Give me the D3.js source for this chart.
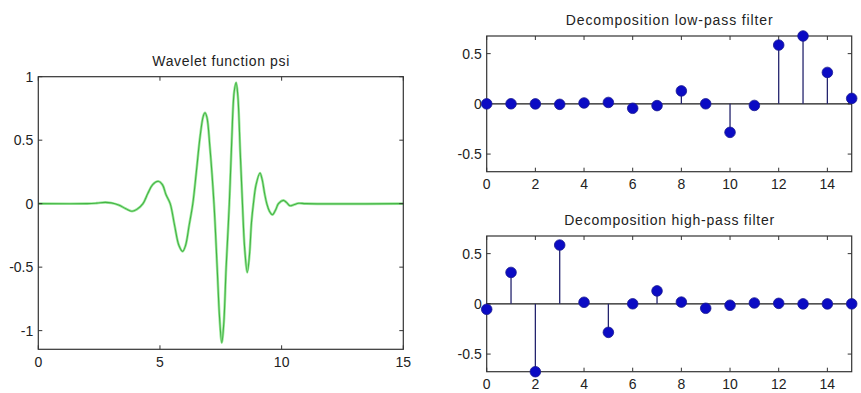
<!DOCTYPE html>
<html>
<head>
<meta charset="utf-8">
<script src="https://cdn.jsdelivr.net/npm/d3@7"></script>
<style>
  html, body { margin: 0; padding: 0; background: #ffffff; }
  svg { display: block; }
  text { font-family: "Liberation Sans", Arial, Helvetica, sans-serif; fill: #222; }
</style>
</head>
<body>
<svg id="chart" width="861" height="393"></svg>
<script>
// ---- Data ----
// Wavelet function psi (x, y) samples
const psiX = [0, 2.0, 2.4, 2.75, 3.0, 3.3, 3.6, 3.85, 4.05, 4.3, 4.5, 4.7, 4.93, 5.1, 5.25, 5.42,
  5.6, 5.78, 5.93, 6.05, 6.2, 6.35, 6.5, 6.65, 6.78, 6.85, 6.93, 7.05, 7.22, 7.35, 7.45, 7.54,
  7.62, 7.72, 7.85, 7.95, 8.05, 8.13, 8.2, 8.3, 8.39, 8.48, 8.59, 8.68, 8.76, 8.84, 8.95, 9.11,
  9.2, 9.3, 9.39, 9.5, 9.62, 9.75, 9.87, 10.07, 10.2, 10.34, 10.5, 10.7, 11.0, 15];
const psiY = [0, 0, 0.004, 0.01, 0.006, -0.01, -0.04, -0.06, -0.045, 0.0, 0.08, 0.15, 0.176, 0.15, 0.07, 0.0,
  -0.17, -0.33, -0.376, -0.33, -0.17, 0.0, 0.26, 0.53, 0.69, 0.716, 0.68, 0.45, 0.0, -0.5, -0.9, -1.095,
  -0.95, -0.5, 0.0, 0.5, 0.88, 0.953, 0.85, 0.4, 0.0, -0.35, -0.542, -0.4, -0.15, 0.0, 0.15, 0.242,
  0.19, 0.08, 0.0, -0.06, -0.087, -0.05, 0.0, 0.026, 0.01, -0.016, -0.008, 0.003, 0, 0];

// Filter coefficients (index 0..15)
const filterIndex = d3.range(16);
const lowPass = [-0.0001, 0.0007, -0.0004, -0.0049, 0.0087, 0.0140, -0.0441, -0.0174,
  0.1287, 0.0005, -0.2840, -0.0158, 0.5854, 0.6756, 0.3129, 0.0544];
const highPass = [-0.0544, 0.3129, -0.6756, 0.5854, 0.0158, -0.2840, 0.0005, 0.1287,
  0.0174, -0.0441, -0.0140, 0.0087, 0.0049, -0.0004, -0.0007, -0.0001];

const titles = ["Wavelet function psi", "Decomposition low-pass filter", "Decomposition high-pass filter"];
const psiXTicks = [0, 5, 10, 15];
const psiYTicks = [-1, -0.5, 0, 0.5, 1];
const filtXTicks = [0, 2, 4, 6, 8, 10, 12, 14];
const filtYTicks = [-0.5, 0, 0.5];

// ---- Drawing ----
const svg = d3.select("#chart");
const fmt = d => String(d);
const FRAME = "#333";
const TICKLEN = 4;
const FS = 14;

function frame(g, x, y, xTicks, yTicks, title, titleLen) {
  const [x0, x1] = x.range();
  const [y0, y1] = y.range(); // y0 bottom, y1 top
  g.append("rect").attr("x", x0).attr("y", y1).attr("width", x1 - x0).attr("height", y0 - y1)
    .attr("fill", "none").attr("stroke", FRAME).attr("stroke-width", 1.2);
  xTicks.forEach(t => {
    const px = x(t);
    g.append("line").attr("x1", px).attr("x2", px).attr("y1", y0).attr("y2", y0 - TICKLEN).attr("stroke", FRAME);
    g.append("line").attr("x1", px).attr("x2", px).attr("y1", y1).attr("y2", y1 + TICKLEN).attr("stroke", FRAME);
    g.append("text").attr("x", px).attr("y", y0 + 17.5).attr("text-anchor", "middle")
      .attr("font-size", FS).text(fmt(t));
  });
  yTicks.forEach(t => {
    const py = y(t);
    g.append("line").attr("x1", x0).attr("x2", x0 + TICKLEN).attr("y1", py).attr("y2", py).attr("stroke", FRAME);
    g.append("line").attr("x1", x1).attr("x2", x1 - TICKLEN).attr("y1", py).attr("y2", py).attr("stroke", FRAME);
    g.append("text").attr("x", x0 - 5).attr("y", py + 5).attr("text-anchor", "end")
      .attr("font-size", FS).text(fmt(t));
  });
  g.append("text").attr("x", (x0 + x1) / 2).attr("y", y1 - 11).attr("text-anchor", "middle")
    .attr("font-size", FS).attr("textLength", titleLen).attr("lengthAdjust", "spacing").text(title);
}

// Panel 1: psi
{
  const x = d3.scaleLinear().domain([0, 15]).range([38.3, 403.3]);
  const y = d3.scaleLinear().domain([-1.147, 1.0]).range([349.3, 76.7]);
  const g = svg.append("g");
  const pts = psiX.map((v, i) => [v, psiY[i]]);
  const line = d3.line().x(d => x(d[0])).y(d => y(d[1])).curve(d3.curveCatmullRom.alpha(0.5));
  g.append("path").attr("d", line(pts)).attr("fill", "none")
    .attr("stroke", "#9ee89e").attr("stroke-width", 2.6).attr("stroke-linejoin", "round");
  g.append("path").attr("d", line(pts)).attr("fill", "none")
    .attr("stroke", "#44b444").attr("stroke-width", 1.1).attr("stroke-linejoin", "round");
  frame(g, x, y, psiXTicks, psiYTicks, titles[0], 137);
}

function stemPanel(values, top, bottom, title, titleLen) {
  const x = d3.scaleLinear().domain([0, 15]).range([486.7, 851.7]);
  const y = d3.scaleLinear().domain([-0.6756, 0.6756]).range([bottom, top]);
  const g = svg.append("g");
  frame(g, x, y, filtXTicks, filtYTicks, title, titleLen);
  g.append("line").attr("x1", x(0)).attr("x2", x(15)).attr("y1", y(0)).attr("y2", y(0))
    .attr("stroke", "#1a1a1a").attr("stroke-width", 1.3);
  g.selectAll("line.stem").data(filterIndex).enter().append("line").attr("class", "stem")
    .attr("x1", d => x(d)).attr("x2", d => x(d)).attr("y1", y(0)).attr("y2", d => y(values[d]))
    .attr("stroke", "#24246e").attr("stroke-width", 1.3);
  g.selectAll("circle").data(filterIndex).enter().append("circle")
    .attr("cx", d => x(d)).attr("cy", d => y(values[d])).attr("r", 5.3)
    .attr("fill", "#0b0bc4").attr("stroke", "#1a1a90").attr("stroke-width", 0.8);
}

stemPanel(lowPass, 36, 171.7, titles[1], 207);
stemPanel(highPass, 236, 371.7, titles[2], 210);
</script>
</body>
</html>
